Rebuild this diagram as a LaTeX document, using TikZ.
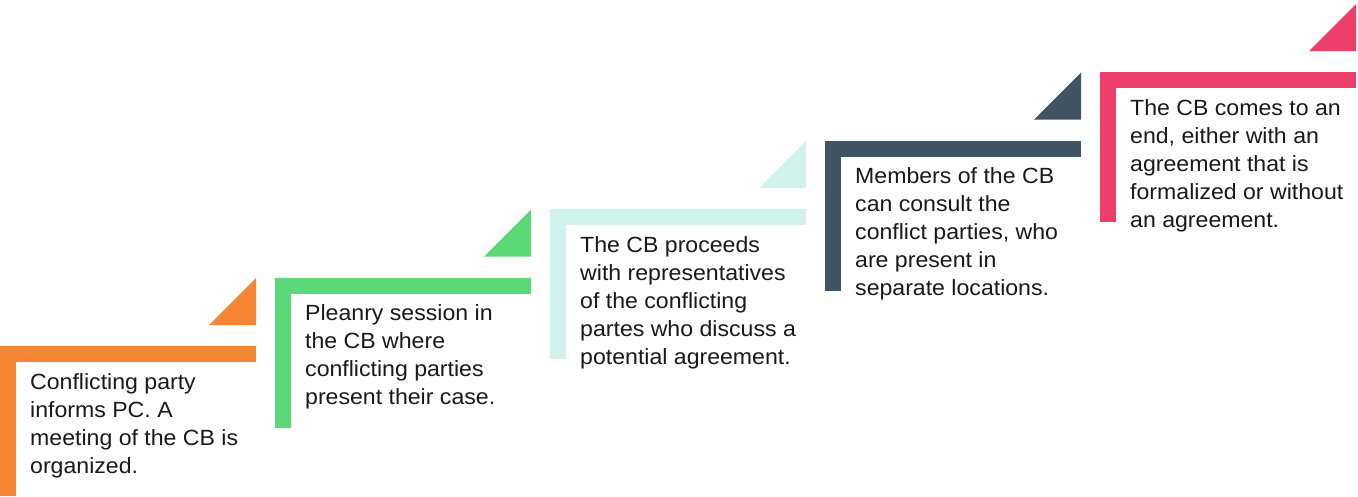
\documentclass[tikz,border=0pt]{standalone}
\usepackage{fontspec}
\setmainfont[FakeStretch=1.05]{Liberation Sans}
\usepackage{xcolor}
\usetikzlibrary{positioning,calc}

\definecolor{stepOrange}{RGB}{245,134,52}
\definecolor{stepGreen}{RGB}{91,217,120}
\definecolor{stepCyan}{RGB}{209,243,238}
\definecolor{stepSlate}{RGB}{64,84,100}
\definecolor{stepPink}{RGB}{238,63,108}

\begin{document}
\begin{tikzpicture}[
  x=1pt, y=-1pt,
  every node/.style={align=left},
  stepText/.style={anchor=north west, inner sep=0pt, text=black!90, font=\fontsize{22}{28}\selectfont},
]
\useasboundingbox (0,0) rectangle (1358,496);

% step anchors (top-left corner of each bar)
\coordinate (s1) at (0,346);
\coordinate (s2) at (275,277.5);
\coordinate (s3) at (550,209);
\coordinate (s4) at (825,140.5);
\coordinate (s5) at (1100,72);

% step 1
\fill[stepOrange] (s1) rectangle ++(256,16);
\fill[stepOrange] (s1) rectangle ++(16,150);
\fill[stepOrange] ($(s1)+(209,-21)$) -- ++(47,0) -- ++(0,-47) -- cycle;
\node[stepText] (t1) at ($(s1)+(30,27)$) {Conflicting party\\informs PC. A\\meeting of the CB is\\organized.};

% step 2
\fill[stepGreen] (s2) rectangle ++(256,16);
\fill[stepGreen] (s2) rectangle ++(16,150);
\fill[stepGreen] ($(s2)+(209,-21)$) -- ++(47,0) -- ++(0,-47) -- cycle;
\node[stepText] (t2) at ($(s2)+(30,27)$) {Pleanry session in\\the CB where\\conflicting parties\\present their case.};

% step 3
\fill[stepCyan] (s3) rectangle ++(256,16);
\fill[stepCyan] (s3) rectangle ++(16,150);
\fill[stepCyan] ($(s3)+(209,-21)$) -- ++(47,0) -- ++(0,-47) -- cycle;
\node[stepText] (t3) at ($(s3)+(30,27)$) {The CB proceeds\\with representatives\\of the conflicting\\partes who discuss a\\potential agreement.};

% step 4
\fill[stepSlate] (s4) rectangle ++(256,16);
\fill[stepSlate] (s4) rectangle ++(16,150);
\fill[stepSlate] ($(s4)+(209,-21)$) -- ++(47,0) -- ++(0,-47) -- cycle;
\node[stepText] (t4) at ($(s4)+(30,27)$) {Members of the CB\\can consult the\\conflict parties, who\\are present in\\separate locations.};

% step 5
\fill[stepPink] (s5) rectangle ++(256,16);
\fill[stepPink] (s5) rectangle ++(16,150);
\fill[stepPink] ($(s5)+(209,-21)$) -- ++(47,0) -- ++(0,-47) -- cycle;
\node[stepText] (t5) at ($(s5)+(30,27)$) {The CB comes to an\\end, either with an\\agreement that is\\formalized or without\\an agreement.};
\end{tikzpicture}
\end{document}
